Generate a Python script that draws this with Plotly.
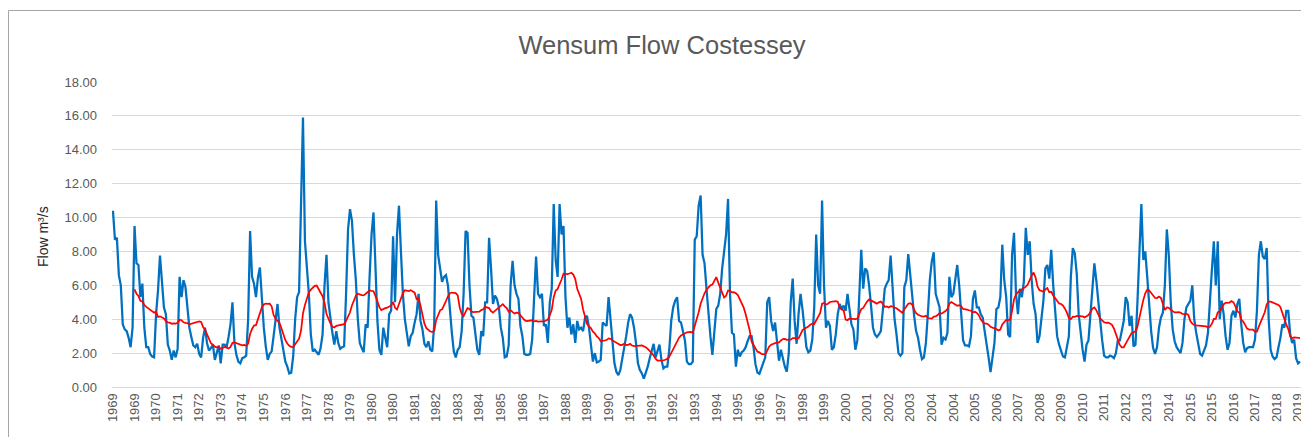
import plotly.graph_objects as go
import pandas as pd

# Monthly mean flow (m3/s), Jan 1969 onward
flow_1969_1978 = [
    10.4, 8.7, 8.8, 6.6, 6.0, 3.7, 3.4, 3.3, 2.9, 2.35, 3.5, 9.5,
    7.3, 7.2, 5.3, 6.1, 3.5, 2.35, 2.35, 1.95, 1.8, 1.75, 4.3, 5.7,
    7.75, 6.3, 4.7, 4.3, 2.5, 2.15, 1.6, 2.15, 1.75, 2.25, 6.5, 5.3,
    6.3, 5.9, 4.5, 3.5, 2.95, 2.45, 2.35, 2.55, 1.95, 1.75, 2.9, 3.5,
    2.6, 2.15, 2.3, 2.5, 1.6, 2.0, 2.45, 1.4, 2.5, 2.5, 2.35, 2.95,
    3.7, 5.0, 2.6, 1.9, 1.5, 1.4, 1.7, 1.75, 1.85, 4.0, 9.2, 6.5,
    6.1, 5.3, 6.45, 7.05, 5.0, 3.5, 2.4, 1.6, 1.95, 2.1, 3.0, 3.9,
    4.9, 3.5, 2.75, 2.0, 1.5, 1.2, 0.8, 0.85, 1.8, 4.0, 5.3, 5.6,
    10.5, 15.9, 8.6, 7.0, 5.5, 3.1, 2.1, 2.2, 2.05, 1.9, 2.3, 3.1,
    6.0, 7.8, 5.0, 4.0, 3.2, 2.5, 3.3, 2.6, 2.25, 2.35, 2.4, 5.5,
]
flow_1979_1988 = [
    9.3, 10.5, 9.8, 7.8, 6.3, 4.0, 2.6, 2.3, 2.05, 3.7, 3.5, 6.5,
    9.0, 10.3, 6.5, 3.9, 2.2, 1.9, 3.5, 2.8, 2.35, 4.3, 4.5, 8.9,
    5.0, 9.0, 10.7, 8.0, 5.5, 4.0, 3.3, 2.4, 3.0, 3.2, 3.8, 4.3,
    5.5, 3.9, 3.4, 2.55, 2.35, 2.7, 2.2, 2.1, 3.7, 11.0, 7.8, 7.1,
    6.2, 6.5, 6.6, 6.0, 4.5, 3.2, 2.1, 1.75, 2.2, 2.35, 3.3, 5.5,
    9.2, 9.1, 6.0, 4.2, 4.1, 3.3, 2.2, 1.9, 3.3, 3.0, 5.0, 5.0,
    8.8, 7.0, 4.9, 5.4, 5.2, 4.7, 3.5, 2.9, 1.75, 1.8, 2.45, 6.0,
    7.45, 6.0, 5.5, 5.2, 3.6, 3.0, 1.95, 1.9, 1.9, 1.95, 2.8, 5.3,
    7.7, 5.5, 5.3, 5.5, 3.6, 3.7, 2.6, 5.0, 5.8, 10.8, 7.5, 6.5,
    10.8, 9.0, 9.5, 5.3, 3.5, 4.1, 3.1, 3.7, 2.6, 3.9, 3.4, 3.5,
]
flow_1989_1998 = [
    3.3, 4.1, 4.2, 3.5, 2.3, 1.5, 2.0, 1.45, 1.5, 1.6, 3.8, 3.7,
    3.6, 5.3, 3.9, 2.35, 1.4, 0.9, 0.7, 1.0, 1.6, 2.3, 3.0, 3.8,
    4.3, 4.1, 3.5, 2.6, 1.4, 1.0, 0.8, 0.5, 0.8, 1.2, 1.7, 2.2,
    2.55, 1.75, 2.2, 2.5, 1.6, 1.1, 1.2, 1.2, 2.2, 3.9, 4.7, 5.1,
    5.3, 3.9, 3.8, 3.2, 2.75, 1.5, 1.35, 1.35, 1.5, 8.7, 8.9, 10.7,
    11.3, 7.8, 7.3, 5.8, 4.3, 3.0, 1.9, 3.5, 4.6, 4.8, 5.5, 7.0,
    7.9, 9.0, 11.1, 5.5, 3.2, 3.1, 1.2, 2.2, 1.8, 2.05, 2.15, 2.35,
    2.7, 3.0, 3.0, 2.35, 1.35, 0.85, 0.78, 1.1, 1.55, 1.75, 5.0, 5.3,
    3.9, 3.3, 3.8, 2.75, 1.55, 2.2, 1.7, 1.2, 0.9, 2.0, 5.0, 6.4,
    3.9, 2.55, 4.3, 5.5, 4.6, 3.3, 2.35, 2.05, 2.15, 2.8, 4.7, 9.0,
]
flow_1999_2008 = [
    6.0, 5.5, 11.0, 6.0, 3.5, 3.9, 3.6, 2.2, 2.35, 3.1, 4.3, 4.9,
    4.6, 4.8, 4.5, 5.5, 4.7, 3.7, 3.4, 2.2, 2.75, 6.0, 8.1, 5.8,
    7.0, 6.85, 6.0, 4.8, 3.5, 3.1, 2.95, 3.1, 3.3, 4.5, 5.8, 6.1,
    6.3, 7.75, 5.8, 4.0, 3.1, 2.0, 1.85, 2.0, 5.9, 6.3, 7.85, 6.5,
    5.3, 4.2, 3.3, 2.9, 2.2, 1.65, 1.75, 2.6, 4.3, 6.3, 7.4, 7.95,
    5.5, 5.1, 4.7, 2.5, 2.9, 2.8, 3.2, 6.5, 5.3, 5.5, 6.3, 7.2,
    6.0, 4.3, 2.75, 2.45, 2.45, 2.4, 3.0, 5.2, 5.7, 4.7, 4.7, 4.3,
    4.1, 3.3, 2.6, 1.75, 0.88, 1.85, 2.6, 4.6, 4.7, 5.3, 8.4, 6.3,
    5.3, 3.1, 2.95, 7.8, 9.1, 5.5, 4.3, 5.8, 5.3, 6.2, 9.4, 7.8,
    8.6, 6.3, 4.9, 4.3, 2.6, 3.0, 3.9, 5.1, 7.0, 7.2, 6.4, 8.1,
]
flow_2009_2019 = [
    6.0, 4.4, 3.0, 2.5, 2.2, 1.8, 1.75, 2.35, 3.0, 6.5, 8.2, 7.9,
    6.7, 4.3, 3.1, 2.2, 1.5, 2.5, 2.75, 4.3, 5.6, 7.3, 6.3, 4.9,
    3.9, 2.75, 1.85, 1.75, 1.75, 1.85, 1.8, 1.7, 2.0, 2.75, 2.75, 3.3,
    3.9, 5.3, 5.0, 3.6, 4.2, 2.4, 2.5, 5.0, 8.2, 10.8, 7.5, 8.0,
    6.5, 4.6, 3.3, 2.3, 1.95, 2.35, 3.5, 4.1, 4.4, 6.0, 9.3, 7.8,
    5.0, 3.4, 2.7, 2.35, 2.15, 2.0, 2.6, 4.0, 4.7, 4.9, 5.1, 6.0,
    4.0, 3.2, 2.6, 1.95, 1.85, 2.2, 2.45, 3.2, 5.3, 6.9, 8.6, 6.0,
    8.6, 4.0, 5.1, 4.3, 3.0, 2.2, 2.6, 4.2, 4.5, 4.1, 4.9, 5.2,
    3.7, 2.6, 2.05, 2.3, 2.35, 2.35, 2.35, 2.8, 4.5, 7.8, 8.6, 7.7,
    7.55, 8.2, 4.0, 2.2, 1.8, 1.65, 1.75, 2.35, 2.9, 3.7, 3.5, 4.5,
    4.5, 3.1, 2.6, 2.8, 1.7, 1.4, 1.5,
]

# Category-axis labels as shown (one label every 11 categories)
year_labels = [
    "1969", "1969", "1970", "1971", "1972", "1973", "1974", "1975", "1976",
    "1977", "1978", "1979", "1980", "1980", "1981", "1982", "1983", "1984",
    "1985", "1986", "1987", "1988", "1989", "1990", "1991", "1991", "1992",
    "1993", "1994", "1995", "1996", "1997", "1998", "1999", "2000", "2001",
    "2002", "2003", "2004", "2004", "2005", "2006", "2007", "2008", "2009",
    "2010", "2011", "2012", "2013", "2014", "2015", "2015", "2016", "2017",
    "2018", "2019",
]
label_interval = 11

flow = (flow_1969_1978 + flow_1979_1988 + flow_1989_1998
        + flow_1999_2008 + flow_2009_2019)
month_index = list(range(len(flow)))
# 12-period moving-average trendline (as Excel draws it)
moving_avg = pd.Series(flow).rolling(12).mean()

tick_positions = [k * label_interval for k in range(len(year_labels))]

fig = go.Figure()
fig.add_trace(go.Scatter(
    x=month_index, y=flow, mode="lines",
    line=dict(color="#0070C0", width=2.25),
    name="Flow", hoverinfo="y",
))
fig.add_trace(go.Scatter(
    x=month_index, y=moving_avg, mode="lines",
    line=dict(color="#FF0000", width=1.75),
    name="12 per. Mov. Avg.", hoverinfo="y",
))

# The page body has an 8px margin, so the figure is laid out 8px smaller
OFF = 8
W, H = 1309 - OFF, 437 - OFF
L, T = 112 - OFF, 82 - OFF
pw, ph = 1189, 305
R, B = W - L - pw, H - T - ph


def px(xp):   # page x -> paper x
    return (xp - OFF - L) / pw


def py(yp):   # page y -> paper y
    return (H - B - (yp - OFF)) / ph


fig.update_layout(
    width=W, height=H,
    margin=dict(l=L, r=R, t=T, b=B, autoexpand=False),
    paper_bgcolor="white", plot_bgcolor="white",
    showlegend=False,
    font=dict(family="Liberation Sans, Arial, sans-serif", color="#595959"),
    title=dict(
        text="Wensum Flow Costessey",
        font=dict(size=25.5, color="#595959"),
        x=(662 - OFF) / W, xanchor="center", xref="container",
        y=1 - (45 - OFF) / H, yanchor="middle", yref="container",
    ),
    xaxis=dict(
        range=[-0.5, len(flow) - 0.5],
        tickmode="array", tickvals=tick_positions, ticktext=year_labels,
        tickangle=-90, tickfont=dict(size=13, color="#595959"),
        showgrid=False, zeroline=False,
        showline=True, linecolor="#D9D9D9", linewidth=1,
        ticks="", automargin=False,
    ),
    yaxis=dict(
        range=[0, 18], dtick=2, tick0=0, tickformat=".2f",
        tickfont=dict(size=13, color="#595959"),
        showgrid=True, gridcolor="#D9D9D9", gridwidth=1,
        zeroline=False, showline=False, ticks="",
        ticklabelstandoff=14, automargin=False,
    ),
    annotations=[dict(
        text="Flow m³/s", textangle=-90,
        xref="paper", yref="paper",
        x=px(43), y=py(237),
        xanchor="center", yanchor="middle", showarrow=False,
        font=dict(size=14, color="#262626"),
    )],
    shapes=[dict(
        type="rect", xref="paper", yref="paper", layer="above",
        x0=px(8.5), x1=px(1340),
        y0=py(480), y1=py(10.5),
        line=dict(color="#A6A6A6", width=1), fillcolor="rgba(0,0,0,0)",
    )],
)

fig.write_html("out.html")
